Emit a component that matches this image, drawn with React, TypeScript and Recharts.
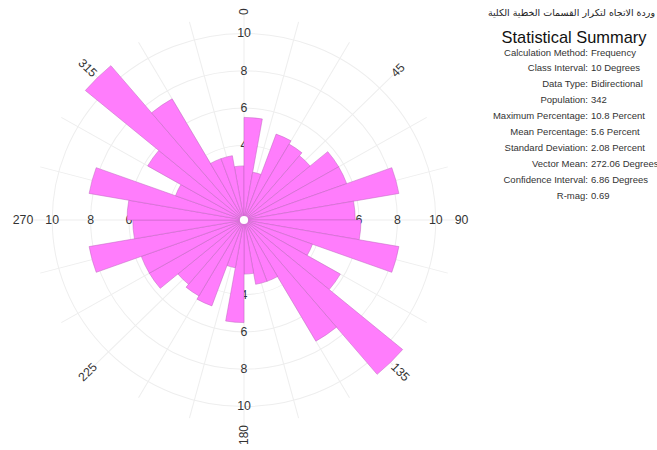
import {
  PolarAngleAxis,
  PolarGrid,
  PolarRadiusAxis,
  RadarChart,
  RadialBar,
  RadialBarChart,
} from "recharts";

// Percent of lineaments per 10° class (0–10 … 170–180).
// The data is bidirectional, so 180–360 repeats the same classes.
const CLASS_PERCENT = [
  5.5, 2.6, 4.9, 4.7, 4.5, 5.7, 5.7, 8.2, 5.8, 6.1, 8.2, 3.8, 5.8, 10.8, 7.5, 3.5, 3.5, 2.9,
];
const CLASS_WIDTH = 10;
const RING_TICKS = [2, 4, 6, 8, 10];
const RADIUS_MAX = 11;
const COMPASS_LABELS = ["0", "45", "90", "135", "180", "225", "270", "315"];
const SPOKE_STEP = 15;

const TITLE = "وردة الاتجاه لتكرار القسمات الخطية الكلية";
const SUMMARY_LABELS = [
  "Calculation Method:",
  "Class Interval:",
  "Data Type:",
  "Population:",
  "Maximum Percentage:",
  "Mean Percentage:",
  "Standard Deviation:",
  "Vector Mean:",
  "Confidence Interval:",
  "R-mag:",
];
const SUMMARY_VALUES = [
  "Frequency",
  "10 Degrees",
  "Bidirectional",
  "342",
  "10.8 Percent",
  "5.6 Percent",
  "2.08 Percent",
  "272.06 Degrees",
  "6.86 Degrees",
  "0.69",
];

const W = 490;
const H = 450;
const CX = 244;
const CY = 220;
const OUTER = 205.2;
const LABEL_R = 205;
// the rose is drawn slightly wider than tall
const STRETCH_X = 1.028;
const FONT = '"Liberation Sans", Arial, sans-serif';
const INK = "#333";
const PETAL = "#ff7dfc";
const RAD = Math.PI / 180;

// Recharts opens each centric band counter-clockwise from its tick, so the
// list starts one class back (350–360) to put 0–10 just east of north.
const nBins = 360 / CLASS_WIDTH;
const rows = Array.from({ length: nBins }, (_, j) => {
  const i = (j + nBins - 1) % nBins;
  return {
    bin: `${i * CLASS_WIDTH}-${(i + 1) * CLASS_WIDTH}`,
    pct: CLASS_PERCENT[i % CLASS_PERCENT.length],
  };
});
const compassRows = COMPASS_LABELS.map((label) => ({ label }));

// compass bearing (clockwise from north) -> recharts angle (ccw from east)
const toChartAngle = (bearing: number) => 90 - bearing;
const spokeAngles = Array.from({ length: 360 / SPOKE_STEP }, (_, i) =>
  toChartAngle(i * SPOKE_STEP)
);

// ring values are repeated on the N, E, S and W spokes
function RingTick(props: any) {
  const { payload } = props;
  const cx = props.cx ?? CX;
  const cy = props.cy ?? CY;
  const r = payload.coordinate;
  const spots = [
    [cx, cy - r],
    [cx + r, cy],
    [cx, cy + r],
    [cx - r, cy],
  ];
  return (
    <g>
      {spots.map(([x, y], k) => (
        <text
          key={k}
          x={x}
          y={y}
          textAnchor="middle"
          dominantBaseline="central"
          fontSize={12}
          fontFamily={FONT}
          fill={INK}
        >
          {payload.value}
        </text>
      ))}
    </g>
  );
}

// bearing labels run along the radius, turned so they never read upside down
function CompassTick(props: any) {
  const { payload } = props;
  const cx = props.cx ?? CX;
  const cy = props.cy ?? CY;
  const a = payload.coordinate;
  const x = cx + LABEL_R * Math.cos(-a * RAD);
  const y = cy + LABEL_R * Math.sin(-a * RAD);
  const v = Number(payload.value);
  const rot = v < 180 ? v - 90 : v - 270;
  return (
    <text
      x={x}
      y={y}
      textAnchor={v < 180 ? "start" : "end"}
      dominantBaseline="central"
      transform={`rotate(${rot}, ${x}, ${y})`}
      fontSize={12}
      fontFamily={FONT}
      fill={INK}
    >
      {payload.value}
    </text>
  );
}

const layer = { position: "absolute", left: 0, top: 0 } as const;

const polarFrame = {
  width: W,
  height: H,
  cx: CX,
  cy: CY,
  innerRadius: 0,
  outerRadius: OUTER,
  startAngle: 90,
  endAngle: -270,
  margin: { top: 0, right: 0, bottom: 0, left: 0 },
};

// one petal chart; the under-layer keeps the petals unpainted and only
// carries the grid and ring values so that the painted petals cover them
function Rose({ under }: { under: boolean }) {
  return (
    <RadialBarChart {...polarFrame} layout="centric" data={rows} barCategoryGap="0%" barGap={0}>
      {under && <PolarGrid gridType="circle" polarAngles={spokeAngles} stroke="#eeeeee" />}
      <PolarAngleAxis dataKey="bin" type="category" tick={false} axisLine={false} tickLine={false} />
      <PolarRadiusAxis
        type="number"
        angle={90}
        domain={[0, RADIUS_MAX]}
        ticks={RING_TICKS}
        axisLine={false}
        tickLine={false}
        tick={under ? RingTick : false}
      />
      <RadialBar
        dataKey="pct"
        fill={under ? "none" : PETAL}
        stroke={under ? "none" : "#c064c0"}
        strokeWidth={0.5}
        isAnimationActive={false}
      />
    </RadialBarChart>
  );
}

export default function App() {
  return (
    <div
      style={{
        position: "absolute",
        left: 0,
        top: 0,
        width: 657,
        height: 450,
        overflow: "hidden",
        background: "#fff",
        fontFamily: FONT,
        color: INK,
      }}
    >
      <div
        style={{
          ...layer,
          width: W,
          height: H,
          transform: `scaleX(${STRETCH_X})`,
          transformOrigin: `${CX}px ${CY}px`,
        }}
      >
        {/* bearings */}
        <div style={layer}>
          <RadarChart {...polarFrame} data={compassRows}>
            <PolarAngleAxis dataKey="label" tick={CompassTick} axisLine={false} tickLine={false} />
          </RadarChart>
        </div>
        <div style={layer}>
          <Rose under />
        </div>
        <div style={layer}>
          <Rose under={false} />
        </div>

        {/* centre hole */}
        <div
          style={{
            position: "absolute",
            left: CX - 4,
            top: CY - 4,
            width: 8,
            height: 8,
            borderRadius: "50%",
            background: "#fff",
          }}
        />
      </div>

      <div
        style={{
          position: "absolute",
          right: 2,
          top: 7,
          fontSize: 9.5,
          fontFamily: '"DejaVu Sans", sans-serif',
          direction: "rtl",
          whiteSpace: "nowrap",
          color: "#222",
        }}
      >
        {TITLE}
      </div>
      <div
        style={{
          position: "absolute",
          left: 474,
          width: 200,
          top: 28,
          fontSize: 16.4,
          lineHeight: "18px",
          textAlign: "center",
          color: "#111",
        }}
      >
        Statistical Summary
      </div>
      <div style={{ position: "absolute", left: 470, top: 44.5, fontSize: 9.5, lineHeight: "15.9px" }}>
        {SUMMARY_LABELS.map((label, i) => (
          <div key={label} style={{ display: "flex", whiteSpace: "nowrap" }}>
            <span style={{ width: 118, textAlign: "right" }}>{label}</span>
            <span style={{ marginLeft: 3 }}>{SUMMARY_VALUES[i]}</span>
          </div>
        ))}
      </div>
    </div>
  );
}
